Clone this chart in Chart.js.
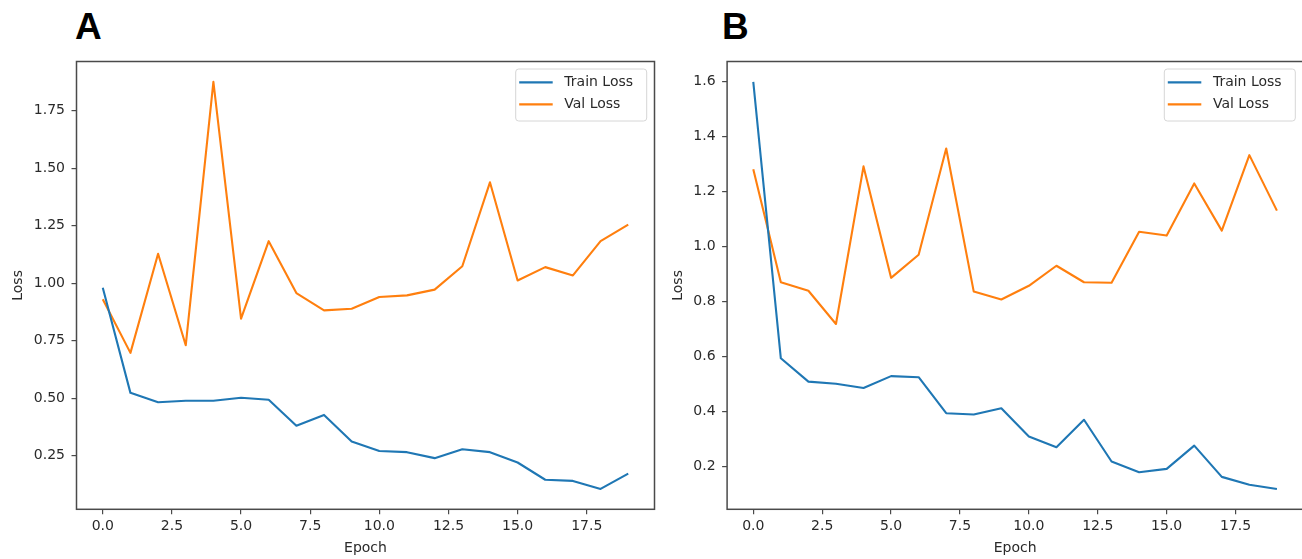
<!DOCTYPE html>
<html>
<head>
<meta charset="utf-8">
<script src="https://cdn.jsdelivr.net/npm/chart.js@4.4.1/dist/chart.umd.min.js"></script>
<style>
  html, body { margin: 0; padding: 0; background: #fff; }
  body { width: 1302px; height: 559px; position: relative; overflow: hidden; }
  .panel-label { position: absolute; top: 8px; font-family: "Liberation Sans", Arial, sans-serif; font-weight: bold; font-size: 37px; line-height: 37px; color: #000; }
  canvas { position: absolute; top: 0; }
</style>
</head>
<body>
<div class="panel-label" style="left:75px">A</div>
<div class="panel-label" style="left:722px">B</div>
<canvas id="chartA" width="660" height="559" style="left:0px"></canvas>
<canvas id="chartB" width="645" height="559" style="left:660px"></canvas>
<script>
// ---- data ----
const epochs = [0, 1, 2, 3, 4, 5, 6, 7, 8, 9, 10, 11, 12, 13, 14, 15, 16, 17, 18, 19];

const trainLossA = [0.980, 0.523, 0.482, 0.489, 0.489, 0.502, 0.493, 0.380, 0.427, 0.311,
                    0.270, 0.265, 0.239, 0.278, 0.265, 0.220, 0.145, 0.140, 0.105, 0.172];
const valLossA   = [0.930, 0.697, 1.128, 0.730, 1.876, 0.846, 1.183, 0.957, 0.882, 0.889,
                    0.940, 0.947, 0.972, 1.074, 1.439, 1.012, 1.070, 1.034, 1.183, 1.255];

const trainLossB = [1.600, 0.593, 0.508, 0.500, 0.485, 0.528, 0.524, 0.393, 0.388, 0.411,
                    0.308, 0.269, 0.369, 0.217, 0.178, 0.190, 0.275, 0.161, 0.132, 0.117];
const valLossB   = [1.282, 0.870, 0.839, 0.718, 1.292, 0.886, 0.970, 1.357, 0.836, 0.807,
                    0.857, 0.930, 0.870, 0.868, 1.054, 1.040, 1.230, 1.058, 1.333, 1.131];

const xTicks  = [0, 2.5, 5, 7.5, 10, 12.5, 15, 17.5];
const yTicksA = [0.25, 0.50, 0.75, 1.00, 1.25, 1.50, 1.75];
const yTicksB = [0.2, 0.4, 0.6, 0.8, 1.0, 1.2, 1.4, 1.6];

const seriesNames = ['Train Loss', 'Val Loss'];
const axisTitles = { x: 'Epoch', y: 'Loss' };

// ---- styling ----
const BLUE = '#1f77b4';
const ORANGE = '#ff7f0e';
const FONT = '"DejaVu Sans", "Liberation Sans", sans-serif';
const TEXT = '#2a2a2a';
const SPINE = '#4a4a4a';

const framePlugin = {
  id: 'mplFrame',
  afterDraw(chart) {
    const { ctx, chartArea: a } = chart;
    ctx.save();
    ctx.strokeStyle = SPINE;
    ctx.lineWidth = 1.5;
    ctx.strokeRect(a.left, a.top, a.right - a.left, a.bottom - a.top);
    // legend (matplotlib style, upper right inside axes)
    const w = 131, h = 52;
    const bx = a.right - 7.8 - w, by = a.top + 7.5;
    const r = 3;
    ctx.beginPath();
    ctx.moveTo(bx + r, by);
    ctx.lineTo(bx + w - r, by);
    ctx.arcTo(bx + w, by, bx + w, by + r, r);
    ctx.lineTo(bx + w, by + h - r);
    ctx.arcTo(bx + w, by + h, bx + w - r, by + h, r);
    ctx.lineTo(bx + r, by + h);
    ctx.arcTo(bx, by + h, bx, by + h - r, r);
    ctx.lineTo(bx, by + r);
    ctx.arcTo(bx, by, bx + r, by, r);
    ctx.closePath();
    ctx.fillStyle = 'rgba(255,255,255,0.85)';
    ctx.fill();
    ctx.strokeStyle = '#d6d6d6';
    ctx.lineWidth = 1;
    ctx.stroke();
    ctx.font = '14px ' + FONT;
    ctx.textBaseline = 'middle';
    ctx.textAlign = 'left';
    chart.data.datasets.forEach((ds, i) => {
      const yy = by + 13.3 + i * 22;
      ctx.strokeStyle = ds.borderColor;
      ctx.lineWidth = 2.2;
      ctx.beginPath();
      ctx.moveTo(bx + 3.5, yy);
      ctx.lineTo(bx + 37, yy);
      ctx.stroke();
      ctx.fillStyle = TEXT;
      ctx.fillText(ds.label, bx + 48.6, yy + 0.5);
    });
    ctx.restore();
  }
};

function makeChart(id, train, val, yTicks, decimals, yAxisWidth, padRight) {
  const all = train.concat(val);
  const lo = Math.min(...all), hi = Math.max(...all);
  const m = (hi - lo) * 0.05;
  const lineStyle = { borderWidth: 2.1, pointRadius: 0, tension: 0, borderJoinStyle: 'round', borderCapStyle: 'butt' };
  return new Chart(document.getElementById(id), {
    type: 'line',
    data: {
      datasets: [
        Object.assign({ label: seriesNames[0], data: train.map((v, i) => ({ x: epochs[i], y: v })),
          borderColor: BLUE, backgroundColor: BLUE }, lineStyle),
        Object.assign({ label: seriesNames[1], data: val.map((v, i) => ({ x: epochs[i], y: v })),
          borderColor: ORANGE, backgroundColor: ORANGE }, lineStyle)
      ]
    },
    options: {
      responsive: false,
      animation: false,
      devicePixelRatio: 1,
      layout: { padding: { left: 0, top: 61.5, right: padRight, bottom: 0 } },
      plugins: { legend: { display: false }, tooltip: { enabled: false } },
      scales: {
        x: {
          type: 'linear',
          min: epochs[0] - 0.95,
          max: epochs[epochs.length - 1] + 0.95,
          afterBuildTicks: s => { s.ticks = xTicks.map(v => ({ value: v })); },
          afterFit: s => { s.height = 49.7; },
          ticks: { callback: v => Number(v).toFixed(1), font: { family: FONT, size: 14 }, color: TEXT, padding: 4, maxRotation: 0, autoSkip: false },
          grid: { display: true, drawOnChartArea: false, drawTicks: true, tickLength: 5, color: SPINE, lineWidth: 1.2 },
          border: { display: false },
          title: { display: true, text: axisTitles.x, font: { family: FONT, size: 14 }, color: TEXT, padding: { top: 0, bottom: 2.6 } }
        },
        y: {
          type: 'linear',
          min: lo - m,
          max: hi + m,
          afterBuildTicks: s => { s.ticks = yTicks.map(v => ({ value: v })); },
          afterFit: s => { s.width = yAxisWidth; },
          ticks: { callback: v => Number(v).toFixed(decimals), font: { family: FONT, size: 14 }, color: TEXT, padding: 6.5, autoSkip: false },
          grid: { display: true, drawOnChartArea: false, drawTicks: true, tickLength: 5, color: SPINE, lineWidth: 1.2 },
          border: { display: false },
          title: { display: true, text: axisTitles.y, font: { family: FONT, size: 14 }, color: TEXT, padding: { top: 9.6, bottom: 0 } }
        }
      }
    },
    plugins: [framePlugin]
  });
}

makeChart('chartA', trainLossA, valLossA, yTicksA, 2, 76.5, 5.5);
makeChart('chartB', trainLossB, valLossB, yTicksB, 1, 67.1, 1.9);
</script>
</body>
</html>
